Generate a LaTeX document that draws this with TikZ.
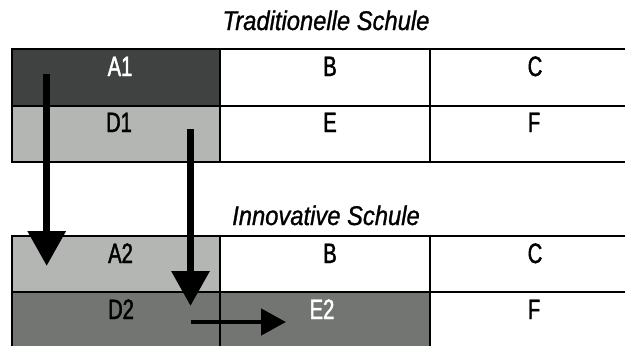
\documentclass[tikz,border=0pt]{standalone}
\usepackage{fontspec}
\setmainfont{Liberation Sans}
\newfontfamily\cellfont{Liberation Sans}[FakeStretch=0.72, FakeBold=1.6]
\newfontfamily\titlefont{Liberation Sans}[FakeStretch=0.88, FakeBold=1.0]
\usetikzlibrary{arrows.meta}
\definecolor{darkcell}{HTML}{404241}
\definecolor{lightcell}{HTML}{B4B6B4}
\definecolor{midcell}{HTML}{737573}
\tikzset{
  celltext/.style={anchor=base, inner sep=0pt, font=\cellfont\fontsize{14pt}{16pt}\selectfont},
  titletext/.style={anchor=base, inner sep=0pt, font=\titlefont\itshape\fontsize{13.5pt}{16pt}\selectfont},
  gridline/.style={draw=black, line width=0.8pt},
  bigarrow/.style={draw=black, line width=3.75pt, -{Triangle[length=17.5pt, width=18.3pt]}},
  smallarrow/.style={draw=black, line width=2.35pt, -{Triangle[length=12.5pt, width=13pt]}}
}
\begin{document}
\begin{tikzpicture}[x=0.5pt, y=-0.5pt]
\useasboundingbox (0,0) rectangle (625,345);
\clip (0,0) rectangle (625,345);
\fill[white] (0,0) rectangle (625,345);
% table 1 fills
\fill[darkcell] (12,49) rectangle (220,105.7);
\fill[lightcell] (12,105.7) rectangle (220,162);
% table 2 fills
\fill[lightcell] (12,236) rectangle (220,292);
\fill[midcell] (12,292) rectangle (430,347);
% table 1 grid
\draw[gridline] (12,49) rectangle (640,162);
\draw[gridline] (12,105.7) -- (640,105.7);
\draw[gridline] (220,49) -- (220,162);
\draw[gridline] (430,49) -- (430,162);
% table 2 grid
\draw[gridline] (12,236) rectangle (640,347);
\draw[gridline] (12,292) -- (640,292);
\draw[gridline] (220,236) -- (220,347);
\draw[gridline] (430,236) -- (430,347);
% titles
\node[titletext] (t1) at (326,30) {Traditionelle Schule};
\node[titletext] (t2) at (326,225) {Innovative Schule};
% table 1 texts
\node[celltext, text=white] (A1) at (120,76) {A1};
\node[celltext] (B1) at (330,76) {B};
\node[celltext] (C1) at (535,76) {C};
\node[celltext] (D1) at (119,132) {D1};
\node[celltext] (E1) at (330,132) {E};
\node[celltext] (F1) at (534,132) {F};
% table 2 texts
\node[celltext] (A2) at (120.5,263) {A2};
\node[celltext] (B2) at (330,263) {B};
\node[celltext] (C2) at (535,263) {C};
\node[celltext] (D2) at (121,319) {D2};
\node[celltext, text=white] (E2) at (322,319) {E2};
\node[celltext] (F2) at (534,319) {F};
% arrows
\coordinate (a1s) at (46.7,74);
\coordinate (a1e) at (46.7,266);
\coordinate (a2s) at (190.5,129);
\coordinate (a2e) at (190.5,306);
\coordinate (a3s) at (190.5,322);
\coordinate (a3e) at (286,322);
\draw[bigarrow] (a1s) -- (a1e);
\draw[bigarrow] (a2s) -- (a2e);
\draw[smallarrow] (a3s) -- (a3e);
\end{tikzpicture}
\end{document}
